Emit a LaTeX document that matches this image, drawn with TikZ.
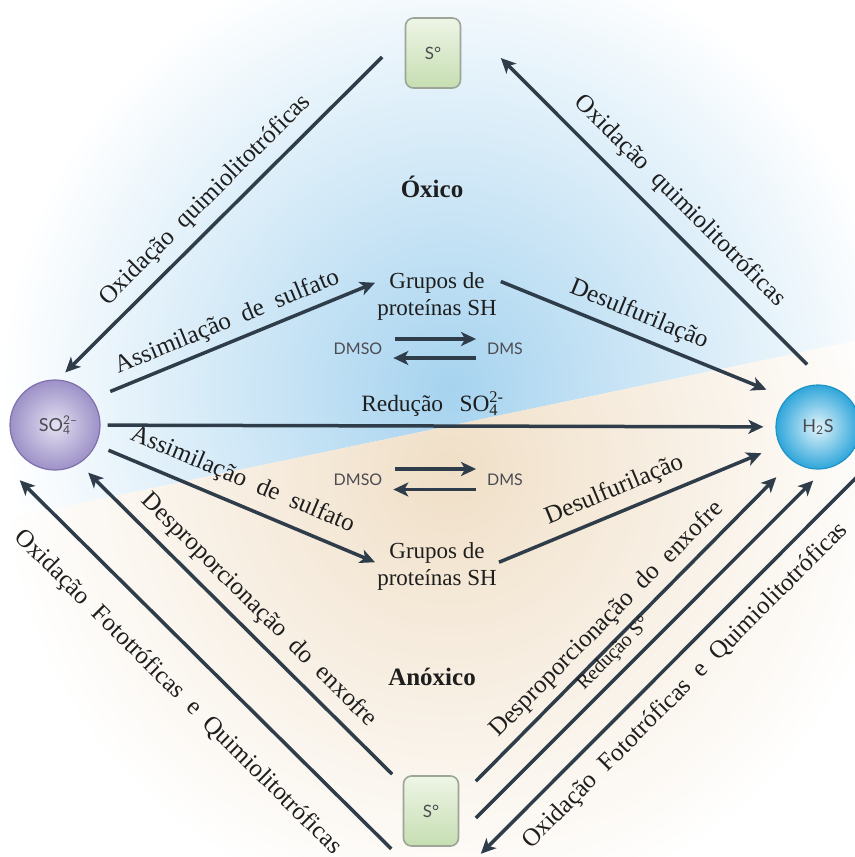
\documentclass[tikz,border=0pt]{standalone}
\usepackage{fontspec}
\setmainfont{Liberation Serif}
\newfontfamily\chemfont{Lato}
\usetikzlibrary{arrows.meta,positioning}
\definecolor{cflow}{HTML}{2E3D49}
\definecolor{ctext}{HTML}{1E1E1E}
\definecolor{cchem}{HTML}{4B4B52}
\definecolor{coxic}{HTML}{A6D3EF}
\definecolor{canox}{HTML}{F0DFC7}
\definecolor{cboxtop}{HTML}{EEF5E6}
\definecolor{cboxbot}{HTML}{C6DEB2}
\definecolor{cboxline}{HTML}{9CA597}
\definecolor{csulfin}{HTML}{E4E0F2}
\definecolor{csulfout}{HTML}{9D91C7}
\definecolor{csulfline}{HTML}{7F71AB}
\definecolor{chsin}{HTML}{E2F4FB}
\definecolor{chsout}{HTML}{2FA6DA}
\definecolor{chsline}{HTML}{1F92C6}
\pgfdeclareradialshading{oxfade}{\pgfpoint{0bp}{0bp}}{color(0bp)=(coxic); color(25bp)=(white); color(50bp)=(white)}
\pgfdeclareradialshading{anoxfade}{\pgfpoint{0bp}{0bp}}{color(0bp)=(canox); color(25bp)=(white); color(50bp)=(white)}
\newcommand\lblfont{\fontsize{12.5}{14}\selectfont\spaceskip=0.5em plus 0.1em minus 0.05em\relax}
\tikzset{
  flow/.style={draw=cflow, line width=1.75pt, -{Stealth[length=7.5pt, width=7pt, inset=2pt]}},
  lab/.style={sloped, font=\lblfont, text=ctext, text height=8.5pt, text depth=2.7pt},
  smalllab/.style={sloped, font=\fontsize{10}{11}\selectfont, text=ctext, text height=6.8pt, text depth=2.2pt},
  zone/.style={font=\fontsize{12.5}{14}\selectfont\bfseries, text=ctext},
  grp/.style={align=center, font=\fontsize{11.5}{13.5}\selectfont, text=ctext, inner sep=0pt},
  chem/.style={font=\chemfont\fontsize{8}{9.5}\selectfont, text=cchem},
  sbox/.style={chem, font=\chemfont\fontsize{8.5}{10}\selectfont, draw=cboxline, line width=0.8pt, rounded corners=4pt, top color=cboxtop, bottom color=cboxbot, minimum width=27.5pt, minimum height=35pt},
  ion/.style={chem, font=\chemfont\fontsize{9}{10}\selectfont, circle, minimum size=45pt, inner sep=0pt, draw=csulfline, line width=0.6pt, inner color=csulfin, outer color=csulfout},
  gas/.style={ion, minimum size=42pt, draw=chsline, inner color=chsin, outer color=chsout},
}
\begin{document}
\begin{tikzpicture}[x=0.5pt, y=-0.5pt]
\useasboundingbox (0,0) rectangle (855,857);
% oxic and anoxic zones
\begin{scope}
  \clip (0,0) -- (855,0) -- (855,341) -- (0,520) -- cycle;
  \shade[shading=oxfade] (450,390) circle (450);
\end{scope}
\begin{scope}
  \clip (0,520) -- (855,341) -- (855,857) -- (0,857) -- cycle;
  \shade[shading=anoxfade] (450,470) circle (450);
\end{scope}
% species
\node[sbox] (stop) at (433,53) {S°};
\node[sbox] (sbot) at (431,811) {S°};
\node[ion] (so4) at (55,425) {SO\rlap{\textsuperscript{2–}}\textsubscript{4}};
\node[gas] (h2s) at (818,427) {H\textsubscript{2}S};
\node[grp] (gup) at (437,296) {Grupos de\\proteínas SH};
\node[grp] (glow) at (437,566) {Grupos de\\proteínas SH};
\node[zone] (oxico) at (432,187) {Óxico};
\node[zone] (anoxico) at (432,677) {Anóxico};
\node[chem] (dmsoa) at (358,349) {DMSO};
\node[chem] (dmsa) at (505,349) {DMS};
\node[chem] (dmsob) at (358,480) {DMSO};
\node[chem] (dmsb) at (505,480) {DMS};
% oxic side
\draw[flow, shorten >=5pt] ([shift={(-11.25pt,-2pt)}]stop.west) -- node[lab, above, pos=0.495, inner sep=4.9pt] {Oxidação quimiolitotróficas} (so4.86);
\draw[flow, shorten <=9.7pt, shorten >=1pt] (so4.35) -- node[lab, above, pos=0.5, inner sep=3.1pt] {Assimilação de sulfato} ([yshift=7pt]gup.west);
\draw[flow, shorten <=15pt] (h2s.76) -- node[lab, above, pos=0.508, inner sep=6.05pt] {Oxidação quimiolitotróficas} ([shift={(19.75pt,-2.5pt)}]stop.east);
\draw[flow, shorten <=2pt, shorten >=11pt] ([yshift=8pt]gup.east) -- node[lab, above, pos=0.462, inner sep=3.95pt] {Desulfurilação} (h2s.137);
\draw[flow, shorten <=3pt, shorten >=2pt] ([yshift=5pt]dmsoa.east) -- ([yshift=5pt]dmsa.west);
\draw[flow, shorten <=2pt, shorten >=2pt] ([yshift=-4.5pt]dmsa.west) -- ([yshift=-4.5pt]dmsoa.east);
% sulfate reduction
\draw[flow, shorten <=3.5pt, shorten >=6pt] (so4) -- node[lab, font=\fontsize{11.7}{13}\selectfont, above, pos=0.488, inner sep=3.75pt] {Redução\hspace{0.7em}SO\rlap{\textsuperscript{2-}}\textsubscript{4}} (h2s);
% anoxic side
\draw[flow, shorten <=6.8pt, shorten >=1pt] (so4.-26) -- node[lab, above, pos=0.488, inner sep=5.5pt] {Assimilação de sulfato} ([yshift=1.5pt]glow.west);
\draw[flow, shorten <=1pt, shorten >=9.9pt] ([yshift=1.5pt]glow.east) -- node[lab, above, pos=0.445, inner sep=4.5pt] {Desulfurilação} (h2s.206);
\draw[flow, shorten <=3pt, shorten >=2pt] ([yshift=5.5pt]dmsob.east) -- ([yshift=5.5pt]dmsb.west);
\draw[flow, shorten <=2pt, shorten >=2pt] ([yshift=-4.75pt]dmsb.west) -- ([yshift=-4.75pt]dmsob.east);
\draw[flow] ([shift={(-5.75pt,-1pt)}]sbot.south west) -- node[lab, below, pos=0.5, inner sep=13.4pt] {Oxidação Fototróficas e Quimiolitotróficas} ([shift={(-1.5pt,-11.5pt)}]so4.south west);
\draw[flow, shorten >=6.35pt] ([shift={(-5.25pt,0.5pt)}]sbot.north west) -- node[lab, above, pos=0.476, inner sep=4.65pt] {Desproporcionação do enxofre} (so4.-58);
\draw[flow, shorten >=11.4pt] ([shift={(8.25pt,-3pt)}]sbot.north east) -- node[lab, above, pos=0.46, inner sep=3.6pt] {Desproporcionação do enxofre} (h2s.233);
\draw[flow, shorten >=8.1pt] ([shift={(8.25pt,-3.5pt)}]sbot.east) -- node[smalllab, above, pos=0.433, inner sep=3.65pt] {Redução S°} (h2s.279);
\draw[flow] ([shift={(8.15pt,-6.15pt)}]h2s.south east) -- node[lab, below, pos=0.515, inner sep=6.9pt] {Oxidação Fototróficas e Quimiolitotróficas} ([shift={(10.75pt,-3.5pt)}]sbot.south east);
\end{tikzpicture}
\end{document}
